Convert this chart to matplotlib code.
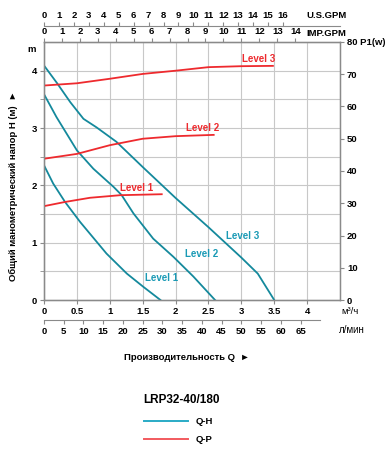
import matplotlib
matplotlib.use("Agg")
import matplotlib.pyplot as plt

plt.rcParams['font.family'] = ['Liberation Sans', 'DejaVu Sans']
plt.rcParams['font.weight'] = 'bold'

TEAL = '#14899c'
RED = '#ee2a2e'
GRID = '#c8c8c8'
SPINE = '#8a8a8a'

# Q-H curves (m3/h, m)
q_h3 = [0, 0.2, 0.4, 0.6, 0.8, 1.1, 1.5, 2.0, 2.5, 3.0, 3.25, 3.5]
h3 = [4.09, 3.78, 3.45, 3.16, 3.01, 2.76, 2.32, 1.78, 1.27, 0.74, 0.46, 0.0]
q_h2 = [0, 0.19, 0.5, 0.75, 1.06, 1.18, 1.36, 1.66, 1.97, 2.27, 2.6]
h2 = [3.59, 3.19, 2.61, 2.29, 1.97, 1.83, 1.51, 1.07, 0.75, 0.41, 0.0]
q_h1 = [0, 0.14, 0.32, 0.55, 0.95, 1.26, 1.51, 1.77]
h1 = [2.35, 2.03, 1.71, 1.36, 0.81, 0.46, 0.23, 0.0]

# Q-P curves (m3/h, W)
q_p3 = [0, 0.5, 1.0, 1.5, 2.0, 2.5, 3.0, 3.48]
p3 = [66.5, 67.2, 68.6, 70.1, 71.1, 72.2, 72.5, 72.6]
q_p2 = [0, 0.5, 1.0, 1.5, 2.0, 2.58]
p2 = [43.8, 45.3, 48.0, 50.0, 50.8, 51.2]
q_p1 = [0, 0.32, 0.7, 1.16, 1.79]
p1 = [29.1, 30.4, 31.7, 32.5, 32.8]

m3h_ticks = [0, 0.5, 1, 1.5, 2, 2.5, 3, 3.5, 4]
m3h_labels = ['0', '0.5', '1', '1.5', '2', '2.5', '3', '3.5', '4']
lmin_ticks = list(range(0, 70, 5))
usgpm_ticks = list(range(0, 17))
impgpm_ticks = list(range(0, 15))
p_ticks = list(range(0, 90, 10))

fs = 6.8

fig = plt.figure(figsize=(3.9, 4.5), dpi=100)
ax = fig.add_axes([44 / 390, 150 / 450, 296 / 390, 258 / 450])
ax.set_xlim(0, 4.5)
ax.set_ylim(0, 4.5)
ax.set_xticks([x * 0.5 for x in range(10)])
ax.set_yticks([y * 0.5 for y in range(10)])
ax.grid(True, color=GRID, lw=0.8)
ax.set_xticklabels([])
ax.set_yticklabels([])
ax.tick_params(length=0)
for s in ax.spines.values():
    s.set_color(SPINE)
    s.set_linewidth(1.0)

# left axis labels
left = ax.secondary_yaxis('left')
left.set_yticks([0, 1, 2, 3, 4])
left.set_yticks([0.5, 1.5, 2.5, 3.5], minor=True)
left.tick_params(labelsize=fs, length=3, color=SPINE, pad=2)
left.tick_params(which='minor', length=3, color=SPINE)
left.spines['left'].set_color(SPINE)

# curves
ax.plot(q_h3, h3, color=TEAL, lw=1.3)
ax.plot(q_h2, h2, color=TEAL, lw=1.3)
ax.plot(q_h1, h1, color=TEAL, lw=1.3)

ax2 = ax.twinx()
ax2.set_ylim(0, 80)
ax2.set_yticks(p_ticks)
ax2.set_yticklabels([str(v) for v in p_ticks[:-1]] + ['80 P1(w)'])
ax2.tick_params(labelsize=fs, length=3, color=SPINE, pad=2)
for s in ax2.spines.values():
    s.set_color(SPINE)
ax2.plot(q_p3, p3, color=RED, lw=1.3)
ax2.plot(q_p2, p2, color=RED, lw=1.3)
ax2.plot(q_p1, p1, color=RED, lw=1.3)

# level labels
lab = dict(fontsize=7, fontweight='bold', ha='center', va='center')
ax.text(3.26, 4.2, 'Level 3', color=RED, **lab)
ax.text(2.41, 3.0, 'Level 2', color=RED, **lab)
ax.text(1.41, 1.95, 'Level 1', color=RED, **lab)
ax.text(3.02, 1.11, 'Level 3', color='#1a9ab5', **lab)
ax.text(2.39, 0.81, 'Level 2', color='#1a9ab5', **lab)
ax.text(1.78, 0.39, 'Level 1', color='#1a9ab5', **lab)

# bottom m3/h axis
bot = ax.secondary_xaxis('bottom')
bot.set_xticks(m3h_ticks, m3h_labels)
bot.tick_params(labelsize=fs, length=3, color=SPINE, pad=2)
bot.spines['bottom'].set_color(SPINE)

# l/min axis
lmin = ax.secondary_xaxis(-20 / 258, functions=(lambda q: q * 1000 / 60, lambda l: l * 60 / 1000))
lmin.set_xticks(lmin_ticks)
lmin.tick_params(labelsize=fs, length=3, color=SPINE, pad=2)
lmin.spines['bottom'].set_color(SPINE)
lmin.spines['bottom'].set_bounds(0, 70)

# IMP.GPM axis on top spine
imp = ax.secondary_xaxis('top', functions=(lambda q: q * 3.666, lambda g: g / 3.666))
imp.set_xticks(impgpm_ticks)
imp.tick_params(labelsize=fs, length=3, color=SPINE, pad=1)
imp.spines['top'].set_color(SPINE)

# U.S.GPM axis
us = ax.secondary_xaxis(1 + 16 / 258, functions=(lambda q: q * 4.403, lambda g: g / 4.403))
us.set_xticks(usgpm_ticks)
us.tick_params(labelsize=fs, length=3, color=SPINE, pad=1)
us.spines['top'].set_color(SPINE)

fig.text(306 / 390, 1 - 15 / 450, 'U.S.GPM', fontsize=fs, fontweight='bold', ha='left', va='center')
fig.text(306 / 390, 1 - 33 / 450, 'IMP.GPM', fontsize=fs, fontweight='bold', ha='left', va='center')
fig.text(32 / 390, 1 - 50 / 450, 'm', fontsize=fs, fontweight='bold', ha='center', va='center')
fig.text(350 / 390, 1 - 311 / 450, 'м³/ч', fontsize=fs, fontweight='normal', ha='center', va='center')
fig.text(352 / 390, 1 - 330 / 450, 'л/мин', fontsize=7, fontweight='normal', ha='center', va='center')

fig.text(187 / 390, 1 - 357 / 450, 'Производительность Q  ►', fontsize=fs, fontweight='bold',
         ha='center', va='center')
fig.text(13 / 390, 1 - 186 / 450, 'Общий манометрический напор H (м)  ►', fontsize=fs,
         fontweight='bold', ha='center', va='center', rotation=90)

fig.text(182 / 390, 1 - 400 / 450, 'LRP32-40/180', fontsize=8.5, fontweight='bold', ha='center', va='center')
fig.add_artist(plt.Line2D([144 / 390, 188 / 390], [1 - 421 / 450] * 2, color='#2aabc6', lw=1.4))
fig.add_artist(plt.Line2D([144 / 390, 188 / 390], [1 - 439 / 450] * 2, color='#f25a5e', lw=1.4))
fig.text(196 / 390, 1 - 421 / 450, 'Q-H', fontsize=fs, fontweight='bold', ha='left', va='center')
fig.text(196 / 390, 1 - 439 / 450, 'Q-P', fontsize=fs, fontweight='bold', ha='left', va='center')

fig.savefig('out.png', dpi=100)
